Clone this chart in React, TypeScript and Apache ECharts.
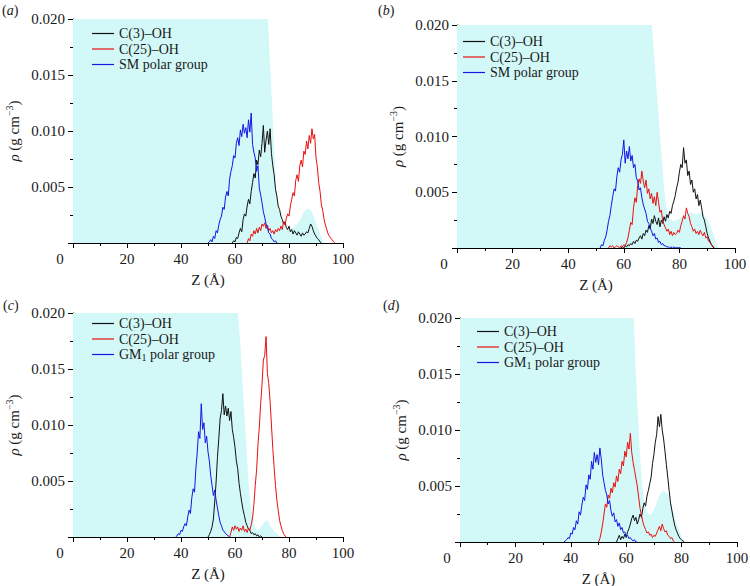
import React, { useEffect, useRef } from "react";
import * as echarts from "echarts";

// Sampling step of every density profile (Å)
const STEP = 0.5;

// All densities in 10^-3 g cm^-3, sampled every STEP Å from the given start Z.
// ---- Panel (a) ----
const A_C3_START = 59.0;
const A_C3 = [0.0, 0.2, 0.1, 0.5, 0.4, 0.9, 1.3, 1.0, 2.1, 2.6, 2.4, 3.3, 3.9, 3.5, 4.6, 5.4, 6.2, 5.8, 7.4, 7.0, 8.3, 7.7, 8.9, 10.5, 8.1, 9.2, 10.0, 8.8, 10.2, 8.0, 6.9, 6.1, 4.8, 4.2, 3.3, 3.0, 2.4, 2.1, 1.7, 1.9, 1.4, 1.2, 1.5, 1.0, 1.2, 0.8, 1.1, 0.9, 0.7, 1.0, 0.8, 0.6, 0.9, 0.7, 0.8, 1.0, 0.9, 1.3, 1.7, 1.5, 1.1, 0.8, 0.6, 0.4, 0.3, 0.1, 0.0];
const A_C25_START = 64.5;
const A_C25 = [0.0, 0.4, 0.2, 0.8, 0.6, 1.1, 0.8, 1.3, 0.9, 1.4, 1.1, 1.7, 1.5, 1.8, 1.3, 1.6, 1.1, 1.3, 0.9, 1.1, 0.8, 1.2, 1.0, 1.3, 1.1, 1.5, 1.2, 1.9, 1.6, 2.2, 2.6, 2.4, 3.3, 3.9, 4.5, 4.2, 5.6, 6.1, 5.5, 6.9, 7.4, 6.8, 8.2, 7.9, 9.1, 8.4, 9.6, 8.9, 10.2, 9.3, 9.7, 7.6, 6.8, 5.4, 4.6, 3.4, 2.9, 2.1, 1.6, 1.2, 0.8, 0.6, 0.4, 0.3, 0.1, 0.0];
const A_POLAR_START = 50.0;
const A_POLAR = [0.0, 0.1, 0.3, 0.1, 0.6, 0.4, 1.1, 0.9, 1.6, 2.1, 2.4, 3.2, 3.0, 4.1, 4.6, 4.2, 5.7, 6.4, 6.9, 7.8, 7.6, 8.9, 9.4, 8.7, 10.1, 9.5, 10.6, 9.8, 10.3, 9.4, 11.0, 9.9, 11.6, 8.8, 8.1, 7.6, 6.4, 6.9, 4.9, 4.3, 3.6, 2.8, 2.3, 1.7, 1.4, 0.9, 0.8, 0.4, 0.3, 0.1, 0.2, 0.0];
const A_FILL_Z = [0, 72.2, 73.0, 74.2, 75.2, 76.0, 77.0, 78.0, 80.0, 82.0, 84.0, 85.5, 87.0, 88.5, 90.0, 91.5, 93.0];
const A_FILL = [20, 20, 16, 10, 5, 3.2, 2.2, 1.6, 1.2, 1.4, 2.0, 2.8, 3.1, 2.8, 1.8, 0.8, 0];

// ---- Panel (b) ----
const B_C3_START = 59.0;
const B_C3 = [0.0, 0.1, 0.0, 0.2, 0.1, 0.3, 0.2, 0.4, 0.3, 0.6, 0.4, 0.7, 0.6, 0.9, 1.1, 0.8, 1.3, 1.1, 1.6, 1.4, 2.0, 1.7, 2.6, 2.2, 2.9, 2.4, 2.1, 2.7, 1.9, 2.5, 2.2, 2.8, 2.4, 3.0, 2.7, 3.3, 3.1, 3.8, 4.2, 4.7, 5.4, 5.9, 6.8, 7.5, 7.2, 9.0, 7.6, 7.9, 6.5, 6.9, 5.7, 6.1, 5.0, 5.3, 4.4, 4.8, 3.8, 4.3, 3.6, 2.8, 2.5, 1.9, 1.3, 0.9, 0.6, 0.3, 0.1, 0.0];
const B_C25_START = 54.5;
const B_C25 = [0.0, 0.2, 0.1, 0.2, 0.0, 0.1, 0.2, 0.1, 0.0, 0.2, 0.1, 0.3, 0.2, 0.5, 0.9, 1.6, 2.3, 2.1, 3.6, 4.5, 4.1, 5.6, 6.2, 5.8, 6.9, 6.0, 5.4, 6.1, 4.9, 5.3, 4.4, 4.9, 4.0, 4.6, 3.8, 5.0, 4.1, 3.2, 3.4, 2.4, 2.1, 1.8, 1.5, 1.7, 1.2, 1.5, 1.1, 1.4, 1.2, 1.3, 1.6, 1.4, 2.0, 2.4, 2.9, 2.6, 3.6, 3.1, 2.8, 2.2, 1.9, 1.5, 1.7, 1.3, 1.5, 1.2, 1.6, 1.3, 1.1, 1.4, 0.9, 1.0, 0.6, 0.5, 0.3, 0.2, 0.0];
const B_POLAR_START = 51.5;
const B_POLAR = [0.0, 0.3, 0.2, 0.7, 1.0, 1.6, 2.4, 2.9, 3.8, 4.6, 5.3, 5.1, 6.4, 7.2, 6.8, 7.9, 8.4, 9.7, 7.6, 8.7, 8.0, 9.1, 7.8, 8.3, 7.2, 7.5, 6.3, 6.0, 5.2, 5.4, 4.5, 3.9, 3.5, 3.1, 2.4, 2.2, 1.8, 1.5, 1.1, 1.3, 0.8, 0.9, 0.5, 0.6, 0.3, 0.4, 0.2, 0.2, 0.1, 0.1, 0.0, 0.1, 0.0, 0.1, 0.0, 0.05, 0.0, 0.05, 0.0];
const B_FILL_Z = [0, 70.1, 71.0, 72.0, 73.0, 74.0, 74.8, 75.5, 76.5, 78.0, 80.0, 82.0, 84.0, 86.0, 88.0, 90.0, 92.0, 93.0, 94.0];
const B_FILL = [20, 20, 17, 13.5, 10, 7, 4.5, 3.2, 2.6, 2.4, 2.6, 3.0, 3.2, 3.0, 3.2, 2.6, 1.4, 0.6, 0];

// ---- Panel (c) ----
const C_C3_START = 50.0;
const C_C3 = [0.0, 0.2, 0.5, 0.9, 1.6, 3.2, 4.9, 7.1, 8.8, 10.6, 11.3, 12.8, 10.9, 11.7, 10.8, 11.5, 10.4, 11.2, 9.6, 8.9, 8.0, 6.8, 6.1, 4.8, 3.9, 3.1, 2.4, 1.9, 1.3, 1.0, 0.7, 0.6, 0.3, 0.4, 0.2, 0.3, 0.1, 0.2, 0.0, 0.1, 0.0];
const C_C25_START = 58.0;
const C_C25 = [0.0, 0.4, 0.9, 0.6, 1.0, 0.7, 0.9, 0.5, 0.8, 0.6, 1.0, 0.5, 0.7, 0.4, 0.8, 0.6, 1.1, 1.7, 2.9, 4.6, 6.0, 8.2, 9.8, 11.9, 13.6, 15.8, 16.2, 17.9, 14.6, 13.7, 12.1, 10.0, 7.9, 6.2, 4.6, 3.3, 2.4, 1.5, 1.0, 0.6, 0.3, 0.1, 0.0];
const C_POLAR_START = 38.0;
const C_POLAR = [0.0, 0.1, 0.3, 0.2, 0.6, 0.5, 0.9, 1.2, 1.0, 1.8, 2.4, 2.1, 3.5, 4.3, 4.0, 6.1, 7.5, 9.4, 8.8, 11.9, 9.6, 10.2, 8.4, 9.0, 7.6, 6.8, 5.5, 4.6, 3.7, 4.2, 3.3, 2.6, 1.9, 1.3, 1.0, 0.6, 0.5, 0.3, 0.2, 0.1, 0.0];
const C_FILL_Z = [0, 61.1, 62.0, 63.0, 64.2, 65.0, 65.6, 66.2, 67.0, 68.0, 69.0, 70.0, 71.0, 72.0, 73.0, 74.5, 76.0, 77.0];
const C_FILL = [20, 20, 17, 13, 8, 5, 3.2, 2.2, 1.2, 0.6, 0.7, 1.0, 1.4, 1.5, 1.0, 0.5, 0.2, 0];

// ---- Panel (d) ----
const D_C3_START = 56.5;
const D_C3 = [0.0, 0.3, 0.6, 0.2, 0.5, 0.3, 0.7, 0.4, 0.9, 1.2, 1.6, 2.1, 2.4, 1.9, 2.2, 1.6, 2.0, 2.5, 2.2, 3.0, 3.5, 3.2, 4.1, 4.6, 5.2, 5.8, 7.0, 7.8, 8.9, 9.6, 11.2, 10.3, 11.4, 10.0, 9.2, 8.1, 6.9, 5.8, 4.6, 3.5, 2.8, 2.1, 1.5, 1.1, 0.8, 0.5, 0.3, 0.2, 0.1, 0.0];
const D_C25_START = 50.0;
const D_C25 = [0.0, 0.3, 0.9, 1.6, 2.5, 3.4, 3.1, 4.2, 3.9, 4.8, 4.4, 5.3, 4.9, 5.9, 5.4, 6.5, 6.1, 7.2, 6.8, 8.1, 7.6, 8.9, 8.3, 9.7, 8.0, 7.1, 6.4, 5.7, 5.0, 4.0, 3.0, 2.4, 1.8, 1.4, 1.1, 0.8, 0.9, 0.6, 0.7, 0.4, 0.6, 0.5, 0.8, 1.1, 1.4, 1.0, 1.6, 1.2, 0.9, 1.0, 0.6, 0.5, 0.3, 0.4, 0.1, 0.0];
const D_POLAR_START = 37.5;
const D_POLAR = [0.0, 0.1, 0.2, 0.4, 0.3, 0.8, 0.7, 1.3, 1.1, 1.9, 1.6, 2.7, 2.4, 3.3, 4.0, 3.7, 5.1, 4.7, 6.0, 5.6, 7.2, 6.5, 8.0, 7.1, 7.8, 6.9, 8.4, 7.4, 6.0, 5.3, 4.6, 4.2, 3.4, 3.7, 2.8, 2.3, 2.6, 1.8, 2.0, 1.4, 1.7, 1.1, 1.3, 0.8, 0.9, 0.5, 0.6, 0.3, 0.4, 0.2, 0.1, 0.2, 0.0, 0.0];
const D_FILL_Z = [0, 62.7, 63.5, 64.5, 65.2, 65.8, 66.5, 67.5, 69.0, 70.5, 72.0, 73.5, 75.0, 76.5, 78.0, 79.5, 80.7];
const D_FILL = [20, 20, 15, 10, 7, 5, 3.5, 2.6, 2.4, 3.2, 4.2, 4.6, 4.3, 3.2, 1.8, 0.8, 0];

// Axis ticks
const X_TICKS = [0, 20, 40, 60, 80, 100];
const Y_TICKS = [0, 5, 10, 15, 20]; // 10^-3 g cm^-3

const NAME_C3 = "C(3)–OH";
const NAME_C25 = "C(25)–OH";
const NAME_SM = "SM polar group";
const NAME_GM = "GM1 polar group";

const FONT = "'Liberation Serif', 'Times New Roman', serif";
const TXT = "#1a1a1a";
const CYAN = "#d3f8f8";
const COL_C3 = "#111111";
const COL_C25 = "#e81010";
const COL_POLAR = "#1414e6";

const toPairs = (start: number, vals: number[]) => vals.map((v, i) => [start + i * STEP, v]);
const zip = (xs: number[], ys: number[]) => xs.map((x, i) => [x, ys[i]]);

const PANELS = [
  {
    tag: "a",
    grid: { left: 73, top: 19, width: 270, height: 224 },
    legend: { left: 92, top: 26 },
    label: { left: 2, top: 3 },
    polarName: NAME_SM,
    c3: toPairs(A_C3_START, A_C3),
    c25: toPairs(A_C25_START, A_C25),
    polar: toPairs(A_POLAR_START, A_POLAR),
    fill: zip(A_FILL_Z, A_FILL),
  },
  {
    tag: "b",
    grid: { left: 457, top: 25, width: 278, height: 223 },
    legend: { left: 463, top: 34 },
    label: { left: 378, top: 3 },
    polarName: NAME_SM,
    c3: toPairs(B_C3_START, B_C3),
    c25: toPairs(B_C25_START, B_C25),
    polar: toPairs(B_POLAR_START, B_POLAR),
    fill: zip(B_FILL_Z, B_FILL),
  },
  {
    tag: "c",
    grid: { left: 73, top: 313, width: 270, height: 224 },
    legend: { left: 92, top: 316 },
    label: { left: 3, top: 298 },
    polarName: NAME_GM,
    c3: toPairs(C_C3_START, C_C3),
    c25: toPairs(C_C25_START, C_C25),
    polar: toPairs(C_POLAR_START, C_POLAR),
    fill: zip(C_FILL_Z, C_FILL),
  },
  {
    tag: "d",
    grid: { left: 460, top: 318, width: 277, height: 224 },
    legend: { left: 477, top: 324 },
    label: { left: 383, top: 298 },
    polarName: NAME_GM,
    c3: toPairs(D_C3_START, D_C3),
    c25: toPairs(D_C25_START, D_C25),
    polar: toPairs(D_POLAR_START, D_POLAR),
    fill: zip(D_FILL_Z, D_FILL),
  },
];

function buildOption() {
  const grid: any[] = [];
  const xAxis: any[] = [];
  const yAxis: any[] = [];
  const series: any[] = [];
  const legend: any[] = [];
  const title: any[] = [];

  PANELS.forEach((p, i) => {
    grid.push({ ...p.grid, outerBoundsMode: "none", containLabel: false });
    xAxis.push({
      type: "value",
      gridIndex: i,
      min: X_TICKS[0],
      max: X_TICKS[X_TICKS.length - 1],
      interval: X_TICKS[1] - X_TICKS[0],
      name: "Z (Å)",
      nameLocation: "middle",
      nameGap: 29,
      nameTextStyle: { fontFamily: FONT, fontSize: 15, color: TXT },
      axisLine: { show: true, lineStyle: { color: "#000", width: 1 } },
      axisTick: { show: true, length: 5, lineStyle: { color: "#000" } },
      minorTick: { show: true, splitNumber: 2, length: 3, lineStyle: { color: "#000" } },
      splitLine: { show: false },
      axisLabel: {
        fontFamily: FONT,
        fontSize: 15,
        color: TXT,
        margin: 8,
        formatter: (v: number) => (v === 0 ? "{z|0}" : String(v)),
        rich: { z: { fontFamily: FONT, fontSize: 15, color: TXT, padding: [0, 26, 0, 0] } },
      },
    });
    yAxis.push({
      type: "value",
      gridIndex: i,
      min: Y_TICKS[0],
      max: Y_TICKS[Y_TICKS.length - 1],
      interval: Y_TICKS[1] - Y_TICKS[0],
      name: "{i|ρ} (g cm{sup|−3})",
      nameLocation: "middle",
      nameGap: 49,
      nameRotate: 90,
      nameTextStyle: {
        fontFamily: FONT,
        fontSize: 15,
        color: TXT,
        lineHeight: 20,
        rich: {
          i: { fontFamily: FONT, fontSize: 15, fontStyle: "italic", color: TXT, lineHeight: 20 },
          sup: { fontFamily: FONT, fontSize: 10, color: TXT, lineHeight: 10, verticalAlign: "top" },
        },
      },
      axisLine: { show: true, lineStyle: { color: "#000", width: 1 } },
      axisTick: { show: true, length: 5, lineStyle: { color: "#000" } },
      minorTick: { show: true, splitNumber: 2, length: 3, lineStyle: { color: "#000" } },
      splitLine: { show: false },
      axisLabel: {
        fontFamily: FONT,
        fontSize: 15,
        color: TXT,
        margin: 8,
        formatter: (v: number) => (v === 0 ? "" : (v / 1000).toFixed(3)),
      },
    });

    series.push({
      type: "line",
      name: "water",
      xAxisIndex: i,
      yAxisIndex: i,
      data: p.fill,
      symbol: "none",
      lineStyle: { width: 0, opacity: 0 },
      areaStyle: { color: CYAN, opacity: 1 },
      z: 1,
      silent: true,
    });
    const mk = (name: string, data: any[], color: string) => ({
      type: "line",
      name,
      xAxisIndex: i,
      yAxisIndex: i,
      data,
      symbol: "none",
      showSymbol: false,
      color,
      lineStyle: { width: 1, color },
      itemStyle: { color },
      z: 3,
    });
    series.push(mk(NAME_C3, p.c3, COL_C3));
    series.push(mk(NAME_C25, p.c25, COL_C25));
    series.push(mk(p.polarName, p.polar, COL_POLAR));

    legend.push({
      orient: "vertical",
      left: p.legend.left,
      top: p.legend.top,
      icon: "rect",
      itemWidth: 22,
      itemHeight: 1.2,
      itemGap: 0.5,
      padding: 0,
      selectedMode: false,
      data: [NAME_C3, NAME_C25, p.polarName],
      formatter: (name: string) => (name === NAME_GM ? "GM{s|1} polar group" : name),
      textStyle: {
        fontFamily: FONT,
        fontSize: 14,
        color: TXT,
        lineHeight: 15,
        rich: {
          s: { fontFamily: FONT, fontSize: 10, color: TXT, lineHeight: 10, verticalAlign: "bottom", padding: [5, 0, 0, 0] },
        },
      },
    });

    title.push({
      text: `({i|${p.tag}})`,
      left: p.label.left,
      top: p.label.top,
      padding: 0,
      textStyle: {
        fontFamily: FONT,
        fontSize: 14,
        fontWeight: "normal",
        color: TXT,
        rich: { i: { fontFamily: FONT, fontSize: 14, fontStyle: "italic", color: TXT } },
      },
    });
  });

  return {
    animation: false,
    backgroundColor: "#ffffff",
    title,
    grid,
    xAxis,
    yAxis,
    legend,
    series,
  };
}

export default function App() {
  const ref = useRef<HTMLDivElement>(null);
  useEffect(() => {
    if (!ref.current) return;
    const chart = echarts.init(ref.current, null, { renderer: "svg" });
    chart.setOption(buildOption() as any);
    return () => chart.dispose();
  }, []);
  return (
    <div
      ref={ref}
      style={{ position: "absolute", left: 0, top: 0, width: 750, height: 586, background: "#fff" }}
    />
  );
}
